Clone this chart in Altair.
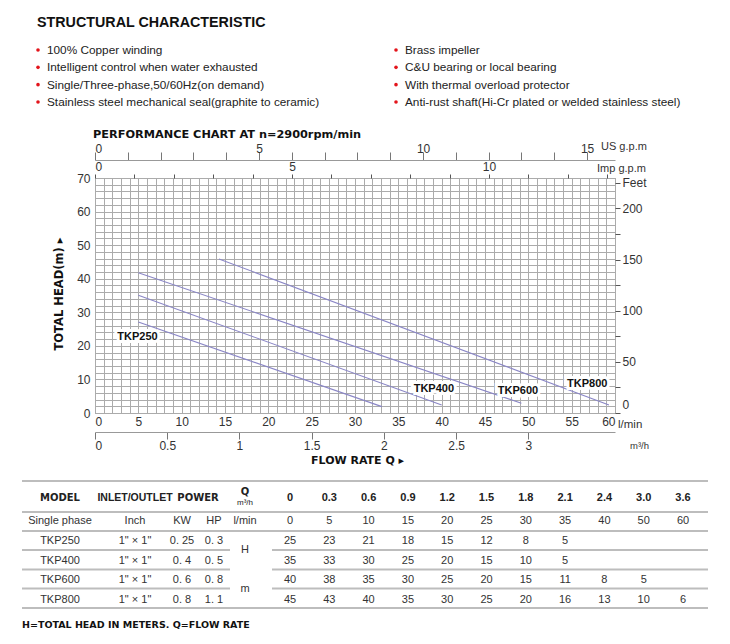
import altair as alt
import pandas as pd

# ---------------- data ----------------
features_left = [
    "100% Copper winding",
    "Intelligent control when water exhausted",
    "Single/Three-phase,50/60Hz(on demand)",
    "Stainless steel mechanical seal(graphite to ceramic)",
]
features_right = [
    "Brass impeller",
    "C&U bearing or local bearing",
    "With thermal overload protector",
    "Anti-rust shaft(Hi-Cr plated or welded stainless steel)",
]

models = ["TKP250", "TKP400", "TKP600", "TKP800"]
curve_q_start = [5.0, 5.0, 5.0, 14.3]
curve_h_start = [27.1, 35.1, 41.8, 45.9]
curve_q_end = [33.1, 40.0, 49.2, 59.3]
curve_h_end = [1.9, 2.4, 2.9, 2.4]
label_q = [4.9, 39.1, 48.8, 56.8]
label_h = [22.6, 7.1, 6.6, 8.6]

q_m3h_labels = ["0", "0.3", "0.6", "0.9", "1.2", "1.5", "1.8", "2.1", "2.4", "3.0", "3.6"]
q_lmin_values = [0, 5, 10, 15, 20, 25, 30, 35, 40, 50, 60]
inlet_outlet = ['1" × 1"', '1" × 1"', '1" × 1"', '1" × 1"']
power_kw = ["0. 25", "0. 4", "0. 6", "0. 8"]
power_hp = ["0. 3", "0. 5", "0. 8", "1. 1"]
head_tkp250 = [25, 23, 21, 18, 15, 12, 8, 5]
head_tkp400 = [35, 33, 30, 25, 20, 15, 10, 5]
head_tkp600 = [40, 38, 35, 30, 25, 20, 15, 11, 8, 5]
head_tkp800 = [45, 43, 40, 35, 30, 25, 20, 16, 13, 10, 6]
heads = [head_tkp250, head_tkp400, head_tkp600, head_tkp800]

# unit conversions
L_PER_USGAL = 3.78541
L_PER_IMPGAL = 4.54609
M_PER_FT = 0.3048

# ---------------- layout ----------------
OX, OY = 95, 178          # page position of the plot area origin
W, H = 520, 235
FONT = "Liberation Sans"
BOLDFONT = "DejaVu Sans"
GRID = "#ababab"
TXT = "#222222"
LBL = "#333333"
CURVE = "#8a86c6"

Q_MAX = 60.0
H_MAX = 70.0

def ann(text, px, py, **kw):
    return alt.Chart(pd.DataFrame({"t": [text]})).mark_text(**kw).encode(
        text="t:N", x=alt.value(px - OX), y=alt.value(py - OY)
    )

# ---------------- main performance plot ----------------
rows = []
for m, q0, h0, q1, h1 in zip(models, curve_q_start, curve_h_start, curve_q_end, curve_h_end):
    rows.append({"model": m, "q": q0, "h": h0})
    rows.append({"model": m, "q": q1, "h": h1})
curve_df = pd.DataFrame(rows)

xq = alt.Scale(domain=[0, Q_MAX], nice=False, zero=False)
yh = alt.Scale(domain=[0, H_MAX], nice=False, zero=False)

grid_df = pd.DataFrame({"q": [0.0, Q_MAX], "h": [0.0, H_MAX]})
grid = alt.Chart(grid_df).mark_point(opacity=0).encode(
    x=alt.X("q:Q", scale=xq, axis=alt.Axis(
        values=list(range(0, 61)), grid=True, gridColor=GRID, gridOpacity=1,
        ticks=False, domain=False, title=None,
        labelExpr="datum.value % 5 === 0 ? datum.label : ''",
        labelFont=FONT, labelFontSize=12, labelColor=LBL, labelPadding=3,
        labelOverlap=False)),
    y=alt.Y("h:Q", scale=yh, axis=alt.Axis(
        values=list(range(0, 71, 2)), grid=True, gridColor=GRID, gridOpacity=1,
        ticks=False, domain=False, title=None,
        labelExpr="datum.value % 10 === 0 ? datum.label : ''",
        labelFont=FONT, labelFontSize=12, labelColor=LBL, labelPadding=5,
        labelOverlap=False)),
)

curves = alt.Chart(curve_df).mark_line(color=CURVE, strokeWidth=1.1).encode(
    x=alt.X("q:Q", scale=xq, axis=None),
    y=alt.Y("h:Q", scale=yh, axis=None),
    detail="model:N",
)

lab_df = pd.DataFrame({"model": models, "q": label_q, "h": label_h})
halo = alt.Chart(lab_df).mark_text(
    font=FONT, fontWeight="bold", fontSize=11, fill="white", stroke="white",
    strokeWidth=6, strokeJoin="miter"
).encode(x=alt.X("q:Q", scale=xq, axis=None), y=alt.Y("h:Q", scale=yh, axis=None), text="model:N")
labels = alt.Chart(lab_df).mark_text(
    font=FONT, fontWeight="bold", fontSize=11, color="#111111"
).encode(x=alt.X("q:Q", scale=xq, axis=None), y=alt.Y("h:Q", scale=yh, axis=None), text="model:N")

# secondary axes (same physical extent, other units)
dummy = pd.DataFrame({"v": [0.0]})
feet = alt.Chart(dummy).mark_point(opacity=0).encode(
    y=alt.Y("v:Q", scale=alt.Scale(domain=[0, H_MAX / M_PER_FT], nice=False, zero=False),
            axis=alt.Axis(orient="right", values=list(range(0, 226, 25)), tickSize=5,
                          tickColor="#555", domain=False, grid=False, title=None,
                          labelExpr="datum.value === 225 ? 'Feet' : (datum.value % 50 === 0 ? datum.label : '')",
                          labelFont=FONT, labelFontSize=12, labelColor=LBL, labelPadding=2,
                          labelOverlap=False, labelFlush=True, labelFlushOffset=-2))
)
imp = alt.Chart(dummy).mark_point(opacity=0).encode(
    x=alt.X("v:Q", scale=alt.Scale(domain=[0, Q_MAX / L_PER_IMPGAL], nice=False, zero=False),
            axis=alt.Axis(orient="top", values=list(range(0, 14)), tickSize=4,
                          tickColor="#555", domain=False, grid=False, title=None,
                          labelExpr="datum.value % 5 === 0 ? datum.label : ''",
                          labelFont=FONT, labelFontSize=12, labelColor=LBL, labelPadding=1,
                          labelOverlap=False))
)
usg = alt.Chart(dummy).mark_point(opacity=0).encode(
    x=alt.X("v:Q", scale=alt.Scale(domain=[0, Q_MAX / L_PER_USGAL], nice=False, zero=False),
            axis=alt.Axis(orient="top", offset=18, values=list(range(0, 16)), tickSize=8,
                          tickColor="#777", domain=True, domainColor="#999", grid=False, title=None,
                          labelExpr="datum.value % 5 === 0 ? datum.label : ''",
                          labelFont=FONT, labelFontSize=12, labelColor=LBL, labelPadding=-3,
                          labelOverlap=False))
)
m3h = alt.Chart(dummy).mark_point(opacity=0).encode(
    x=alt.X("v:Q", scale=alt.Scale(domain=[0, Q_MAX * 60 / 1000], nice=False, zero=False),
            axis=alt.Axis(orient="bottom", offset=19, values=[0, 0.5, 1, 1.5, 2, 2.5, 3],
                          format=".1~f", tickSize=7, tickColor="#777", domain=True,
                          domainColor="#999", grid=False, title=None,
                          labelFont=FONT, labelFontSize=12, labelColor=LBL, labelPadding=1,
                          labelOverlap=False))
)

# ---------------- feature bullets ----------------
feat_df = pd.DataFrame({
    "t": features_left + features_right,
    "c": [0] * 4 + [1] * 4,
    "r": [0, 1, 2, 3] * 2,
})
fx = alt.Scale(domain=[0, 1], range=[47 - OX, 405 - OX], nice=False, zero=False)
fy = alt.Scale(domain=[0, 3], range=[50 - OY, 102 - OY], nice=False, zero=False)
feat_text = alt.Chart(feat_df).mark_text(
    font=FONT, fontSize=11.8, align="left", baseline="middle", color=TXT
).encode(x=alt.X("c:Q", scale=fx, axis=None), y=alt.Y("r:Q", scale=fy, axis=None), text="t:N")
feat_dot = alt.Chart(feat_df).mark_point(
    filled=True, shape="circle", size=13, color="#e3141b", opacity=1, xOffset=-9
).encode(x=alt.X("c:Q", scale=fx, axis=None), y=alt.Y("r:Q", scale=fy, axis=None))

# ---------------- table ----------------
col_page = [60, 135, 182, 214, 245] + [290 + 39.3 * i for i in range(11)]
tx = alt.Scale(domain=list(range(16)), range=[c - OX for c in col_page], nice=False, zero=False)
ty = alt.Scale(domain=[0, 1, 5], range=[498 - OY, 521 - OY, 600 - OY], nice=False, zero=False)

hdr = [("MODEL", 0, 0), ("POWER", 2.5, 0), ("Q", 4, -0.27)]
hdr += [(s, 5 + i, 0) for i, s in enumerate(q_m3h_labels)]
hdr_df = pd.DataFrame(hdr, columns=["t", "c", "r"])

body = [("Single phase", 0, 1), ("Inch", 1, 1), ("KW", 2, 1), ("HP", 3, 1), ("l/min", 4, 1)]
body += [(str(v), 5 + i, 1) for i, v in enumerate(q_lmin_values)]
for k, m in enumerate(models):
    r = 2 + k
    body += [(m, 0, r), (inlet_outlet[k], 1, r), (power_kw[k], 2, r), (power_hp[k], 3, r)]
    body += [(str(v), 5 + i, r) for i, v in enumerate(heads[k])]
body += [("H", 4, 2.45), ("m", 4, 4.45)]
body_df = pd.DataFrame(body, columns=["t", "c", "r"])

def tenc(ch):
    return ch.encode(x=alt.X("c:Q", scale=tx, axis=None), y=alt.Y("r:Q", scale=ty, axis=None), text="t:N")

tab_hdr_wide = tenc(alt.Chart(hdr_df[hdr_df["c"] < 5]).mark_text(
    font=BOLDFONT, fontWeight="bold", fontSize=10, color=TXT))
tab_hdr_num = tenc(alt.Chart(hdr_df[hdr_df["c"] >= 5]).mark_text(
    font=FONT, fontWeight="bold", fontSize=11, color=TXT))
tab_hdr_io = tenc(alt.Chart(pd.DataFrame({"t": ["INLET/OUTLET"], "c": [1], "r": [0]})).mark_text(
    font=FONT, fontWeight="bold", fontSize=10.5, color=TXT))
tab_unit = tenc(alt.Chart(pd.DataFrame({"t": ["m³/h"], "c": [4], "r": [0.23]})).mark_text(
    font=FONT, fontSize=8, color=TXT))
tab_body = tenc(alt.Chart(body_df).mark_text(font=FONT, fontSize=11, color=LBL))

rule_rows = [
    (22, 708, 481), (22, 708, 512), (22, 708, 531),
    (22, 230, 550), (272, 708, 550),
    (22, 230, 569.5), (272, 708, 569.5),
    (22, 230, 588.5), (272, 708, 588.5),
    (22, 708, 608),
]
rule_df = pd.DataFrame([(a - OX, b - OX, y - OY) for a, b, y in rule_rows], columns=["x", "x2", "y"])
tab_rules = alt.Chart(rule_df).mark_rule(color="#bdbdbd", strokeWidth=2).encode(
    x=alt.X("x:Q", scale=None, axis=None), x2="x2:Q", y=alt.Y("y:Q", scale=None, axis=None)
)

# ---------------- annotations ----------------
texts = [
    ann("STRUCTURAL CHARACTERISTIC", 37, 23, font=FONT, fontWeight="bold", fontSize=14.3,
        align="left", baseline="middle", color="#111"),
    ann("PERFORMANCE CHART AT n=2900rpm/min", 93, 135, font=BOLDFONT, fontWeight="bold",
        fontSize=11.3, align="left", baseline="middle", color="#111"),
    ann("US g.p.m", 601, 147, font=FONT, fontSize=11, align="left", baseline="middle", color=LBL),
    ann("Imp g.p.m", 597, 169, font=FONT, fontSize=11, align="left", baseline="middle", color=LBL),
    ann("l/min", 618, 425, font=FONT, fontSize=11.5, align="left", baseline="middle", color=LBL),
    ann("m³/h", 630, 446, font=FONT, fontSize=9.5, align="left", baseline="middle", color=LBL),
    ann("TOTAL HEAD(m) ▸", 60, 294, font=BOLDFONT, fontWeight="bold", fontSize=11.5,
        angle=270, align="center", baseline="middle", color="#111"),
    ann("FLOW RATE Q ▸", 311, 461, font=BOLDFONT, fontWeight="bold", fontSize=11,
        align="left", baseline="middle", color="#111"),
    ann("H=TOTAL HEAD IN METERS.  Q=FLOW RATE", 22, 625, font=BOLDFONT, fontWeight="bold",
        fontSize=9.5, align="left", baseline="middle", color="#111"),
]

chart = alt.layer(
    grid, curves, halo, labels, feet, imp, usg, m3h,
    feat_dot, feat_text,
    tab_rules, tab_hdr_wide, tab_hdr_io, tab_hdr_num, tab_unit, tab_body,
    *texts,
).resolve_scale(
    x="independent", y="independent"
).properties(
    width=W, height=H,
    autosize=alt.AutoSizeParams(type="none"),
    padding={"left": OX - 8, "top": OY - 8, "right": 714 - (OX - 8) - W, "bottom": 628 - (OY - 8) - H},
    background="white",
).configure_view(stroke="#9a9a9a", strokeWidth=1)

chart.save("out.html", embed_options={"renderer": "svg", "actions": False})
